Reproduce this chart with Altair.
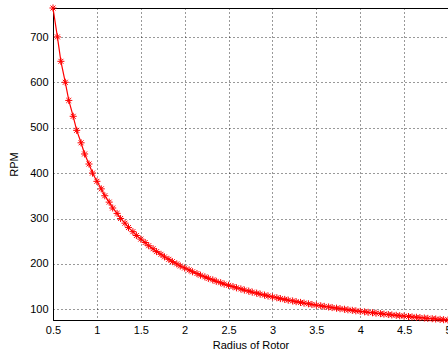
import altair as alt
import pandas as pd

radius = [
    0.50, 0.55, 0.59, 0.64, 0.68, 0.73, 0.77, 0.82, 0.86, 0.91, 0.95,
    1.00, 1.05, 1.09, 1.14, 1.18, 1.23, 1.27, 1.32, 1.36, 1.41, 1.45,
    1.50, 1.55, 1.59, 1.64, 1.68, 1.73, 1.77, 1.82, 1.86, 1.91, 1.95,
    2.00, 2.05, 2.09, 2.14, 2.18, 2.23, 2.27, 2.32, 2.36, 2.41, 2.45,
    2.50, 2.55, 2.59, 2.64, 2.68, 2.73, 2.77, 2.82, 2.86, 2.91, 2.95,
    3.00, 3.05, 3.09, 3.14, 3.18, 3.23, 3.27, 3.32, 3.36, 3.41, 3.45,
    3.50, 3.55, 3.59, 3.64, 3.68, 3.73, 3.77, 3.82, 3.86, 3.91, 3.95,
    4.00, 4.05, 4.09, 4.14, 4.18, 4.23, 4.27, 4.32, 4.36, 4.41, 4.45,
    4.50, 4.55, 4.59, 4.64, 4.68, 4.73, 4.77, 4.82, 4.86, 4.91, 4.95,
    5.00,
]
rpm = [
    764.0, 700.3, 646.5, 600.3, 560.3, 525.3, 494.4, 466.9, 442.3, 420.2, 400.2,
    382.0, 365.4, 350.2, 336.2, 323.2, 311.3, 300.1, 289.8, 280.1, 271.1, 262.6,
    254.7, 247.2, 240.1, 233.4, 227.1, 221.2, 215.5, 210.1, 205.0, 200.1, 195.4,
    191.0, 186.8, 182.7, 178.8, 175.1, 171.5, 168.1, 164.8, 161.6, 158.6, 155.6,
    152.8, 150.1, 147.4, 144.9, 142.4, 140.1, 137.8, 135.6, 133.4, 131.3, 129.3,
    127.3, 125.4, 123.6, 121.8, 120.1, 118.4, 116.7, 115.1, 113.6, 112.1, 110.6,
    109.1, 107.7, 106.4, 105.1, 103.8, 102.5, 101.3, 100.1, 98.9, 97.7, 96.6,
    95.5, 94.4, 93.4, 92.4, 91.4, 90.4, 89.4, 88.5, 87.6, 86.7, 85.8,
    84.9, 84.0, 83.2, 82.4, 81.6, 80.8, 80.0, 79.3, 78.6, 77.8, 77.1,
    76.4,
]
x_ticks = [0.5, 1, 1.5, 2, 2.5, 3, 3.5, 4, 4.5, 5]
y_ticks = [100, 200, 300, 400, 500, 600, 700]

df = pd.DataFrame({"radius": radius, "rpm": rpm})

font = "Liberation Sans"
x_enc = alt.X(
    "radius:Q",
    scale=alt.Scale(domain=[0.5, 5.0], nice=False, zero=False),
    axis=alt.Axis(
        title="Radius of Rotor", values=x_ticks, labelExpr="datum.value",
        grid=True, gridColor="#000", gridDash=[1, 3], gridOpacity=0.8,
        domainColor="#000", ticks=False, labelPadding=4, titlePadding=4,
        labelFont=font, titleFont=font, labelFontSize=11, titleFontSize=11,
        titleFontWeight="normal", labelColor="#000", titleColor="#000",
        labelFlush=False,
    ),
)
y_enc = alt.Y(
    "rpm:Q",
    scale=alt.Scale(domain=[76.4, 764], nice=False, zero=False),
    axis=alt.Axis(
        title="RPM", values=y_ticks,
        grid=True, gridColor="#000", gridDash=[1, 3], gridOpacity=0.8,
        domainColor="#000", ticks=False, labelPadding=5, titlePadding=10,
        labelFont=font, titleFont=font, labelFontSize=11, titleFontSize=11,
        titleFontWeight="normal", labelColor="#000", titleColor="#000",
    ),
)

star = "M-1,0L1,0M0,-1L0,1M-0.7,-0.7L0.7,0.7M-0.7,0.7L0.7,-0.7"
line = alt.Chart(df).mark_line(color="#ff0000", strokeWidth=1.2).encode(x=x_enc, y=y_enc)
pts = alt.Chart(df).mark_point(shape=star, size=50, filled=False, color="#ff0000",
                               strokeWidth=1, opacity=1).encode(x="radius:Q", y="rpm:Q")

chart = (line + pts).properties(
    width=395, height=312,
    autosize=alt.AutoSizeParams(type="none"),
    padding={"left": 53, "top": 8, "right": 0, "bottom": 36},
    background="white",
).configure_view(stroke="#000", strokeWidth=1)

chart.save("out.html", embed_options={"renderer": "svg", "actions": False})
